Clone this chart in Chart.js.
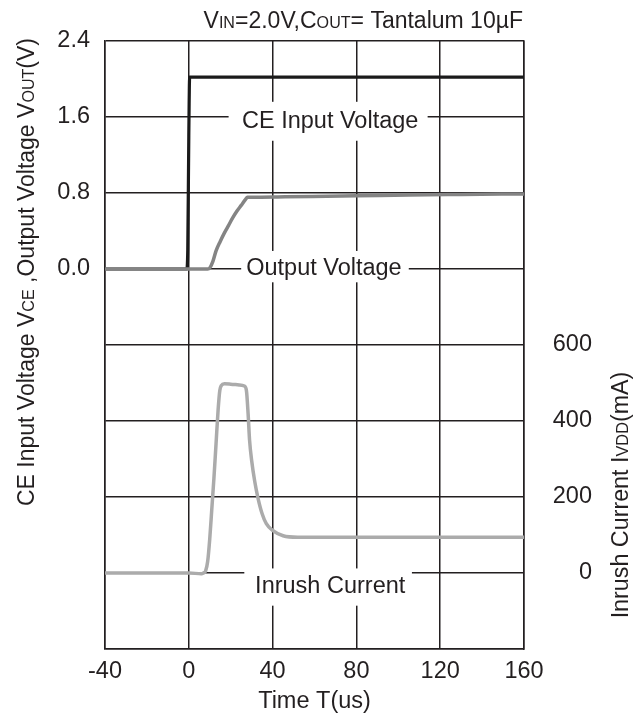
<!DOCTYPE html>
<html>
<head>
<meta charset="utf-8">
<script src="https://cdn.jsdelivr.net/npm/chart.js@4.4.1/dist/chart.umd.min.js"></script>
<style>
  html, body { margin: 0; padding: 0; background: #fff; }
  #wrap { width: 642px; height: 716px; }
</style>
</head>
<body>
<div id="wrap"><canvas id="chart"></canvas></div>
<script>
// CE input voltage (V)
const ceTime = [-40, -10, -1, -0.5, 0, 0.4, 10, 40, 80, 120, 160];
const ceVolt = [0, 0, 0, 0.2, 1.4, 2.02, 2.02, 2.02, 2.02, 2.02, 2.02];

// output voltage (V)
const outTime = [-40, -10, 0, 9, 10, 11.5, 13, 15, 17, 19, 21, 23, 25, 27, 28, 30, 46, 80, 105, 130, 160];
const outVolt = [0, 0, 0, 0, 0.01, 0.08, 0.19, 0.29, 0.38, 0.46, 0.54, 0.61, 0.67, 0.73, 0.755, 0.755, 0.76, 0.77, 0.78, 0.785, 0.79];

// inrush current (mA)
const inTime = [-40, -10, 0, 6, 7, 8, 9, 10, 11, 12, 13, 14, 14.8, 15.5, 17, 20, 24, 26.5, 27.5, 28.3, 29, 30, 31.5, 33, 35, 37, 40, 45, 52, 80, 120, 160];
const inCurr = [0, 0, 0, -2, 0, 5, 30, 90, 170, 250, 340, 430, 480, 493, 498, 497, 495, 492, 480, 420, 350, 296, 240, 198, 156, 130, 112, 98, 94, 94, 94, 94];

// in-plot labels: text, axis, x (us), y, box x-range (us), box y-range
const labelText = ["CE Input Voltage", "Output Voltage", "Inrush Current"];
const labelAxis = ["y", "y", "y1"];
const labelX = [67.5, 64.5, 67.5];
const labelY = [1.55, 0.01, -36];
const labelBoxX = [[19, 114], [25, 105], [26.5, 106.5]];
const labelBoxY = [[1.35, 1.76], [-0.14, 0.19], [-86, 12]];

const xTicks = [-40, 0, 40, 80, 120, 160];

const FONT = "'Liberation Sans', Arial, sans-serif";
const SIZE = 23.5;
const TXT = "#231f20";
const GRID = "#231f20";

function pts(xs, ys) {
  return xs.map((x, i) => ({ x: x, y: ys[i] }));
}

// text with small-caps subscripts: parts = [[text, small?], ...]
function richWidth(ctx, parts, size) {
  let w = 0;
  parts.forEach(p => {
    ctx.font = (p[1] ? size * 0.7 : size) + "px " + FONT;
    w += ctx.measureText(p[0]).width;
  });
  return w;
}
function drawRich(ctx, parts, x, y, size, align) {
  const w = richWidth(ctx, parts, size);
  let cx = align === "right" ? x - w : align === "center" ? x - w / 2 : x;
  ctx.textAlign = "left";
  ctx.textBaseline = "alphabetic";
  ctx.fillStyle = TXT;
  parts.forEach(p => {
    ctx.font = (p[1] ? size * 0.7 : size) + "px " + FONT;
    ctx.fillText(p[0], cx, y);
    cx += ctx.measureText(p[0]).width;
  });
}

const labelsPlugin = {
  id: "labels",
  beforeDatasetsDraw(chart) {
    const ctx = chart.ctx;
    const xs = chart.scales.x;
    ctx.save();
    labelText.forEach((t, i) => {
      const ys = chart.scales[labelAxis[i]];
      const x0 = xs.getPixelForValue(labelBoxX[i][0]);
      const x1 = xs.getPixelForValue(labelBoxX[i][1]);
      const y0 = ys.getPixelForValue(labelBoxY[i][1]);
      const y1 = ys.getPixelForValue(labelBoxY[i][0]);
      ctx.fillStyle = "#fff";
      ctx.fillRect(x0, y0, x1 - x0, y1 - y0);
      ctx.fillStyle = TXT;
      ctx.font = SIZE + "px " + FONT;
      ctx.textAlign = "center";
      ctx.textBaseline = "middle";
      ctx.fillText(t, xs.getPixelForValue(labelX[i]), ys.getPixelForValue(labelY[i]));
    });
    ctx.restore();
  },
  afterDraw(chart) {
    const ctx = chart.ctx;
    const a = chart.chartArea;
    ctx.save();
    // top condition text
    drawRich(ctx, [["V"], ["IN", 1], ["=2.0V,C"], ["OUT", 1], ["= Tantalum 10\u00b5F"]], a.right - 1, 27.5, 23, "right");
    // left axis title
    ctx.save();
    ctx.translate(34, 272);
    ctx.rotate(-Math.PI / 2);
    drawRich(ctx, [["CE Input Voltage V"], ["CE", 1], [" ,Output Voltage V"], ["OUT", 1], ["(V)"]], 0, 0, 23, "center");
    ctx.restore();
    // right axis title
    ctx.save();
    ctx.translate(628, 495);
    ctx.rotate(-Math.PI / 2);
    drawRich(ctx, [["Inrush Current I"], ["VDD", 1], ["(mA)"]], 0, 0, 23.3, "center");
    ctx.restore();
    ctx.restore();
  }
};

new Chart(document.getElementById("chart"), {
  type: "line",
  data: {
    datasets: [
      {
        label: "Inrush Current",
        data: pts(inTime, inCurr),
        yAxisID: "y1",
        borderColor: "#ababab",
        borderWidth: 3.5
      },
      {
        label: "Output Voltage",
        data: pts(outTime, outVolt),
        yAxisID: "y",
        borderColor: "#848484",
        borderWidth: 3.5
      },
      {
        label: "CE Input Voltage",
        data: pts(ceTime, ceVolt),
        yAxisID: "y",
        borderColor: "#1a1a1a",
        borderWidth: 3.2
      }
    ]
  },
  options: {
    responsive: true,
    maintainAspectRatio: false,
    animation: false,
    layout: { padding: { top: 41, right: 50, bottom: 0, left: 0 } },
    elements: {
      point: { radius: 0 },
      line: { cubicInterpolationMode: "monotone", borderJoinStyle: "round", borderCapStyle: "round" }
    },
    plugins: { legend: { display: false }, tooltip: { enabled: false } },
    scales: {
      x: {
        type: "linear",
        min: -40,
        max: 160,
        afterBuildTicks: s => { s.ticks = xTicks.map(v => ({ value: v })); },
        afterFit: s => { s.height = 67; },
        grid: { color: GRID, lineWidth: 1.5, drawTicks: false },
        border: { color: GRID, width: 1.5 },
        ticks: { color: TXT, font: { family: FONT, size: SIZE }, padding: 8, maxRotation: 0 },
        title: { display: true, text: "Time T(us)", color: TXT, font: { family: FONT, size: SIZE }, padding: 0 }
      },
      y: {
        position: "left",
        min: -4.0,
        max: 2.4,
        afterFit: s => { s.width = 105; },
        grid: { color: GRID, lineWidth: 1.5, drawTicks: false },
        border: { color: GRID, width: 1.5 },
        ticks: {
          stepSize: 0.8,
          padding: 15,
          color: TXT,
          font: { family: FONT, size: SIZE },
          callback: v => (v > -0.01 ? v.toFixed(1) : "")
        }
      },
      y1: {
        position: "right",
        min: -200,
        max: 1400,
        afterFit: s => { s.width = 68; },
        grid: { display: false, drawTicks: false },
        border: { color: GRID, width: 1.5 },
        ticks: {
          stepSize: 200,
          padding: 0,
          crossAlign: "far",
          color: TXT,
          font: { family: FONT, size: SIZE },
          callback: v => (v >= 0 && v <= 600 ? String(v) : "")
        }
      }
    }
  },
  plugins: [labelsPlugin]
});
</script>
</body>
</html>
